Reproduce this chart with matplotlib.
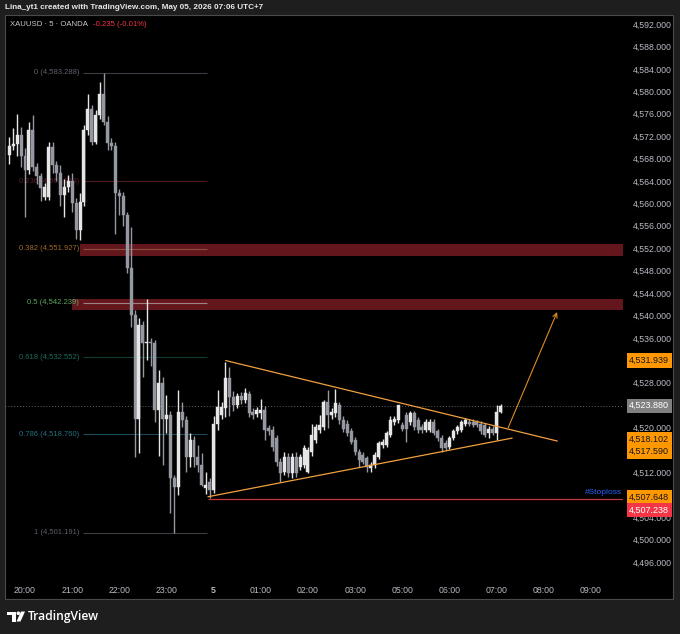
import matplotlib
matplotlib.use("Agg")
import matplotlib.pyplot as plt
from matplotlib.patches import Rectangle, Polygon, Circle
import numpy as np

# 5 minute bars, bar 0 = 20:00 (the 04:00 hour is the daily break, so 05:00 follows 03:55)
bar_start = -4
opens = [4568.6, 4570.2, 4570.6, 4572.2, 4568.4, 4565.9, 4573.1, 4566.5, 4564.8, 4561.2,
         4561.2, 4570.0, 4566.8, 4565.4, 4561.5, 4563.0, 4564.0, 4560.0, 4555.2, 4560.3,
         4573.0, 4576.8, 4571.0, 4575.8, 4579.6, 4574.6, 4570.7, 4570.2, 4561.8, 4561.3,
         4557.9, 4548.4, 4540.1, 4521.5, 4538.3, 4535.0, 4535.3, 4535.0, 4523.1, 4528.0,
         4521.6, 4522.2, 4510.9, 4509.4, 4522.8, 4521.3, 4514.8, 4517.8, 4514.8, 4513.3,
         4509.2, 4510.3, 4508.8, 4520.7, 4522.2, 4523.4, 4528.8, 4525.5, 4524.0, 4525.6,
         4524.9, 4525.9, 4522.8, 4522.4, 4522.5, 4523.2, 4519.9, 4519.5, 4518.1, 4513.9,
         4512.1, 4514.8, 4511.8, 4514.8, 4513.0, 4513.3, 4512.0, 4515.7, 4517.8, 4519.5,
         4520.1, 4524.6, 4522.2, 4522.5, 4524.0, 4521.3, 4520.6, 4519.3, 4517.8, 4515.7,
         4515.1, 4514.5, 4512.7, 4513.3, 4514.8, 4516.9, 4516.9, 4518.7, 4521.0, 4521.3,
         4520.4, 4522.2, 4521.0, 4522.5, 4521.3, 4520.1, 4519.6, 4519.6, 4521.0, 4519.3,
         4518.1, 4517.2, 4516.6, 4518.1, 4519.3, 4519.6, 4520.7, 4521.0, 4521.0, 4520.9,
         4520.7, 4520.4, 4519.0, 4519.8, 4519.0, 4522.8]
highs = [4571.9, 4573.4, 4575.9, 4573.7, 4569.8, 4574.6, 4575.8, 4567.2, 4565.5, 4563.6,
         4571.0, 4571.0, 4567.5, 4566.8, 4564.3, 4565.0, 4565.5, 4561.0, 4561.8, 4574.0,
         4579.6, 4577.5, 4576.7, 4581.7, 4583.288, 4575.5, 4571.6, 4571.0, 4562.5, 4562.0,
         4558.5, 4555.8, 4541.0, 4539.5, 4539.0, 4543.0, 4536.0, 4535.6, 4530.3, 4529.0,
         4525.8, 4523.0, 4511.5, 4526.7, 4524.5, 4522.0, 4519.0, 4518.5, 4516.8, 4515.5,
         4512.1, 4511.0, 4522.0, 4526.7, 4524.5, 4531.7, 4530.8, 4526.5, 4526.2, 4526.4,
         4527.0, 4526.5, 4523.5, 4523.6, 4525.0, 4523.8, 4520.5, 4520.2, 4518.6, 4514.6,
         4515.6, 4515.4, 4515.5, 4515.6, 4515.3, 4516.9, 4516.6, 4520.6, 4520.6, 4522.2,
         4524.9, 4526.7, 4523.4, 4526.8, 4524.6, 4522.0, 4521.4, 4519.9, 4518.3, 4516.2,
         4515.7, 4515.0, 4513.8, 4515.6, 4517.6, 4518.0, 4519.4, 4522.0, 4522.0, 4524.1,
         4521.0, 4522.8, 4523.0, 4523.0, 4521.8, 4520.6, 4521.5, 4521.5, 4521.5, 4519.8,
         4518.6, 4517.7, 4518.5, 4519.7, 4520.5, 4521.3, 4521.7, 4521.5, 4521.5, 4521.3,
         4521.1, 4520.8, 4520.2, 4520.3, 4524.0, 4524.2]
lows = [4567.0, 4569.5, 4568.5, 4566.5, 4557.6, 4565.3, 4565.8, 4563.4, 4560.5, 4560.6,
        4560.6, 4565.4, 4564.0, 4559.5, 4557.6, 4562.0, 4558.5, 4553.7, 4553.5, 4559.5,
        4572.2, 4570.4, 4570.5, 4575.0, 4574.0, 4569.5, 4569.5, 4554.5, 4558.0, 4556.0,
        4547.5, 4538.0, 4514.8, 4515.4, 4529.1, 4532.0, 4530.9, 4521.0, 4515.0, 4513.3,
        4519.0, 4504.7, 4501.191, 4508.0, 4520.0, 4512.0, 4513.0, 4513.0, 4512.0, 4509.5,
        4508.2, 4507.4, 4508.3, 4519.5, 4521.5, 4521.9, 4522.0, 4523.0, 4523.5, 4524.2,
        4524.3, 4521.8, 4521.5, 4521.8, 4521.6, 4517.8, 4518.6, 4515.8, 4513.2, 4510.3,
        4511.5, 4511.2, 4511.0, 4511.2, 4512.4, 4512.8, 4511.8, 4515.0, 4517.2, 4519.0,
        4519.6, 4519.9, 4521.6, 4521.9, 4520.6, 4519.2, 4518.5, 4517.0, 4515.1, 4513.0,
        4513.4, 4512.1, 4512.0, 4512.8, 4514.3, 4516.4, 4516.5, 4518.3, 4520.5, 4520.8,
        4519.4, 4517.5, 4520.5, 4519.6, 4519.1, 4519.1, 4519.2, 4519.2, 4518.6, 4517.6,
        4515.7, 4515.9, 4516.2, 4517.7, 4518.9, 4519.2, 4520.3, 4520.3, 4520.0, 4520.0,
        4518.9, 4518.3, 4518.1, 4518.6, 4517.8, 4522.5]
closes = [4570.2, 4570.6, 4572.2, 4568.4, 4565.9, 4573.1, 4566.5, 4564.8, 4562.7, 4563.0,
          4570.0, 4566.8, 4565.4, 4561.5, 4563.0, 4564.0, 4560.0, 4555.2, 4560.3, 4573.0,
          4576.8, 4571.0, 4575.8, 4579.6, 4574.6, 4570.7, 4570.2, 4561.8, 4561.3, 4557.9,
          4548.4, 4540.1, 4521.5, 4538.3, 4535.0, 4535.3, 4535.0, 4523.1, 4528.0, 4521.6,
          4522.2, 4510.9, 4509.4, 4522.8, 4521.3, 4514.8, 4517.8, 4514.8, 4513.3, 4509.7,
          4509.8, 4508.8, 4520.7, 4523.7, 4523.7, 4528.8, 4525.5, 4524.0, 4525.6, 4524.9,
          4526.2, 4522.5, 4522.2, 4523.1, 4523.2, 4519.6, 4519.3, 4516.6, 4513.9, 4511.8,
          4514.8, 4511.8, 4514.8, 4511.8, 4514.8, 4516.3, 4516.0, 4518.7, 4520.1, 4520.4,
          4524.6, 4522.2, 4522.8, 4524.3, 4521.3, 4519.8, 4519.1, 4517.5, 4515.7, 4514.2,
          4513.9, 4513.0, 4513.3, 4515.1, 4517.2, 4517.5, 4519.0, 4521.3, 4521.6, 4524.0,
          4519.8, 4519.8, 4522.5, 4520.1, 4519.6, 4519.6, 4521.0, 4521.0, 4519.0, 4518.1,
          4516.3, 4516.3, 4518.1, 4519.3, 4520.1, 4521.0, 4521.3, 4520.7, 4520.4, 4520.4,
          4519.3, 4518.7, 4519.8, 4519.0, 4522.8, 4523.88]

time_ticks = [0, 12, 24, 36, 48, 60, 72, 84, 96, 108, 120, 132, 144]
time_labels = ["20:00", "21:00", "22:00", "23:00", "5", "01:00", "02:00", "03:00",
               "05:00", "06:00", "07:00", "08:00", "09:00"]
price_ticks = np.arange(4496, 4593, 4)
hidden_ticks = [4532, 4524, 4516, 4508]   # covered by the price tags in the reference

fib_ratios = ["0", "0.236", "0.382", "0.5", "0.618", "0.786", "1"]
fib_prices = [4583.288, 4563.913, 4551.927, 4542.239, 4532.552, 4518.760, 4501.191]
fib_text_colors = ["#5f626c", "#5a1f25", "#a06a28", "#5fa85f", "#1d6b5d", "#23707e", "#5a5d68"]
fib_line_colors = ["#3b3d45", "#4f1b20", "#8a4f3a", "#a08080", "#0f3d36", "#1a4a55", "#3b3d45"]

zone_low = [4550.60, 4540.97]
zone_high = [4552.74, 4542.98]
zone_start = [14.0, 12.0]

tri_upper = ([51.1, 135.4], [4531.939, 4517.590])
tri_lower = ([46.6, 123.9], [4507.648, 4518.102])
stoploss = 4507.238
last_price = 4523.880
arrow_from = (122.9, 4519.9)
arrow_to = (135.4, 4540.6)

axis_tags = [4531.939, 4523.880, 4518.102, 4517.590, 4507.648, 4507.238]
tag_colors = ["#ff9800", "#808080", "#ff9800", "#ff9800", "#ff9800", "#f23645"]
tag_text = ["#131722", "white", "#131722", "#131722", "#131722", "white"]
tag_shift = [0, 0, -1.0, -7.6, -0.7, -8.0]   # points, keeps stacked tags apart

font = "Liberation Sans"

fig = plt.figure(figsize=(6.8, 6.34), dpi=100, facecolor="#1e1e1e")

# page chrome in pixel coordinates
bg = fig.add_axes([0, 0, 1, 1], zorder=0)
bg.set_xlim(0, 680)
bg.set_ylim(634, 0)
bg.axis("off")
bg.add_patch(Rectangle((5, 15), 668, 584, facecolor="black", edgecolor="#4a4a4a", lw=0.8))
bg.text(5, 7.5, "Lina_yt1 created with TradingView.com, May 05, 2026 07:06 UTC+7",
        color="#e8e8e8", fontsize=5.9, fontweight="bold", family=font, va="center")
sym = bg.text(10, 24.5, "XAUUSD · 5 · OANDA", color="#c8c8c8", fontsize=5.6,
              family=font, va="center")
bg.annotate("-0.235 (-0.01%)", xy=(1, 0.5), xycoords=sym, xytext=(3.5, 0),
            textcoords="offset points", color="#f23645", fontsize=5.6, family=font,
            va="center")
# TradingView logo
bg.add_patch(Rectangle((7, 611.5), 9, 3.5, color="white", lw=0))
bg.add_patch(Rectangle((11.5, 611.5), 4, 10, color="white", lw=0))
bg.add_patch(Circle((18.3, 613.3), 1.8, color="white", lw=0))
bg.add_patch(Polygon([(16.5, 621.5), (20.5, 621.5), (25, 611.5), (21, 611.5)], color="white", lw=0))
bg.text(28, 616.5, "TradingView", color="white", fontsize=8.7, fontweight="semibold",
        family="Open Sans", va="center")

ax = fig.add_axes([5 / 680, 58 / 634, 618 / 680, 560 / 634], zorder=2)
ax.set_facecolor("none")
for s in ax.spines.values():
    s.set_visible(False)
ax.set_xlim(-5.09, 152.16)
ax.set_ylim(4493.50, 4593.43)
x_right = ax.get_xlim()[1]

# zones
for lo, hi, x0 in zip(zone_low, zone_high, zone_start):
    ax.add_patch(Rectangle((x0, lo), x_right - x0, hi - lo, facecolor="#63171d", lw=0, zorder=1))

# fib retracement
ax.hlines(fib_prices, 14.8, 46.3, colors=fib_line_colors, lw=0.8, zorder=1.5)
for r, p, c in zip(fib_ratios, fib_prices, fib_text_colors):
    ax.text(13.8, p, f"{r} ({p:,.3f})", color=c, fontsize=5.5, family=font,
            ha="right", va="center", zorder=1.5)

ax.axhline(last_price, color="#5d606b", ls=(0, (1, 2)), lw=0.7, zorder=1.6)

# candles
x = np.arange(bar_start, bar_start + len(opens))
o = np.array(opens)
h = np.array(highs)
l = np.array(lows)
c = np.array(closes)
up = c >= o
cols = np.where(up, "#e6e6e6", "#9598a1")
ax.vlines(x, l, h, colors=cols, lw=1.0, zorder=3)
body_lo = np.minimum(o, c)
body_h = np.maximum(np.abs(c - o), 0.2)
ax.bar(x, body_h, bottom=body_lo, width=0.76, color=cols, edgecolor=cols, lw=0.3, zorder=3)

# drawings
ax.plot(*tri_upper, color="#f0a040", lw=0.9, zorder=4)
ax.plot(*tri_lower, color="#f0a040", lw=0.9, zorder=4)
ax.hlines(stoploss, tri_lower[0][0], x_right, colors="#c0363c", lw=0.9, zorder=4)
ax.text(x_right - 0.3, stoploss + 0.6, "#Stoploss", color="#2962ff", fontsize=6.0,
        family=font, ha="right", va="bottom", zorder=4)
ax.annotate("", xy=arrow_to, xytext=arrow_from,
            arrowprops=dict(arrowstyle="->", color="#e08a24", lw=0.8, mutation_scale=8,
                            shrinkA=0, shrinkB=0), zorder=4)

# axes ticks
ax.yaxis.tick_right()
ax.set_yticks(price_ticks)
ax.set_yticklabels(["" if v in hidden_ticks else f"{v:,.3f}" for v in price_ticks])
ax.set_xticks(time_ticks)
ax.set_xticklabels(time_labels)
ax.tick_params(axis="y", length=0, pad=7, labelsize=6.3, labelcolor="#b8bbc4")
ax.tick_params(axis="x", length=0, pad=7.5, labelsize=6.3, labelcolor="#b8bbc4")
for t in ax.get_yticklabels() + ax.get_xticklabels():
    t.set_family(font)
ax.get_xticklabels()[4].set_fontweight("bold")

for p, fc, tc, dy in zip(axis_tags, tag_colors, tag_text, tag_shift):
    ax.annotate(f"{p:,.3f}", xy=(1, p), xycoords=ax.get_yaxis_transform(),
                xytext=(4.5, dy), textcoords="offset points", ha="left", va="center",
                fontsize=6.5, family=font, color=tc, annotation_clip=False, zorder=6,
                bbox=dict(boxstyle="square,pad=0.3", facecolor=fc, edgecolor="none"))

fig.savefig("out.png", dpi=100, facecolor=fig.get_facecolor())
